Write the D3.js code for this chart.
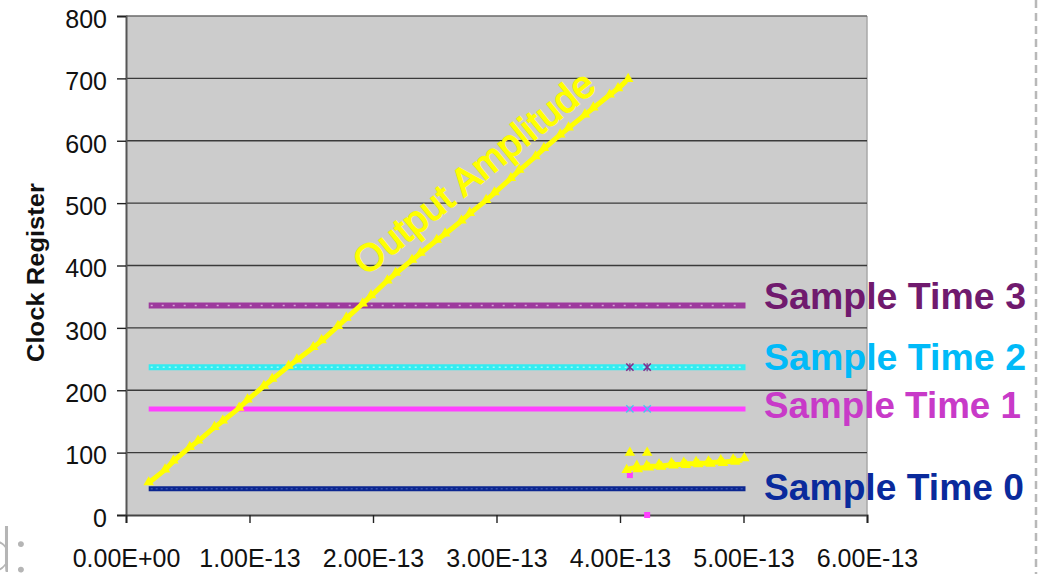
<!DOCTYPE html>
<html>
<head>
<meta charset="utf-8">
<script src="https://cdn.jsdelivr.net/npm/d3@7"></script>
<style>
  html, body { margin: 0; padding: 0; background: #ffffff; }
  svg { display: block; font-family: "Liberation Sans", Arial, Helvetica, sans-serif; }
</style>
</head>
<body>
<svg id="chart" width="1042" height="574"></svg>
<script>
// Times are given in units of 1e-13 s
const TIME_UNIT = 1e-13;

const xTickValues = [0, 1, 2, 3, 4, 5, 6];
const yTickValues = [0, 100, 200, 300, 400, 500, 600, 700, 800];

// Output amplitude: ramp phase
const rampTimes = [0.2, 0.3, 0.4, 0.5, 0.6, 0.7, 0.8, 0.9, 1.0, 1.1, 1.2, 1.3, 1.4, 1.5,
  1.6, 1.7, 1.8, 1.9, 2.0, 2.1, 2.2, 2.3, 2.4, 2.5, 2.6, 2.7, 2.8, 2.9, 3.0, 3.1, 3.2,
  3.3, 3.4, 3.5, 3.6, 3.7, 3.8, 3.9, 4.0, 4.05];
const rampValues = [54, 70, 89, 106, 121, 138, 153, 169, 187, 204, 220, 236, 251, 266,
  282, 300, 318, 336, 354, 373, 390, 406, 422, 438, 453, 469, 486, 502, 519, 537, 555,
  572, 590, 607, 623, 639, 655, 671, 686, 696];

// Output amplitude: settled phase
const tailTimes = [4.07, 4.12, 4.16, 4.2, 4.25, 4.3, 4.35, 4.4, 4.45, 4.5, 4.55, 4.6,
  4.65, 4.7, 4.75, 4.8, 4.85, 4.9, 4.95, 4.99];
const tailValues = [74, 76, 75, 76, 78, 78, 79, 80, 81, 81, 82, 82, 83, 83, 84, 85, 85,
  86, 87, 88];

// Sample-time registers: constant levels over the run
const sampleSpan = [0.2, 5.0];
const sampleNames = ["Sample Time 0", "Sample Time 1", "Sample Time 2", "Sample Time 3"];
const sampleLevels = [42, 170, 237, 336];

// Stray samples at the switching instants
const glitchTimes = [4.08, 4.22];
const glitchOutput = [100, 100];
const glitchTime1 = [64, 0];
const glitchTime2 = [170, 170];
const glitchTime3 = [237, 237];

const svg = d3.select("#chart");
const x = d3.scaleLinear().domain([0, 6 * TIME_UNIT]).range([126, 867]);
const y = d3.scaleLinear().domain([0, 800]).range([515, 16]);
const tx = t => x(t * TIME_UNIT);

// Plot background
svg.append("rect")
  .attr("x", x(0)).attr("y", y(800))
  .attr("width", x(6 * TIME_UNIT) - x(0)).attr("height", y(0) - y(800))
  .attr("fill", "#cccccc");
svg.append("line")
  .attr("x1", x(6 * TIME_UNIT)).attr("x2", x(6 * TIME_UNIT))
  .attr("y1", y(800)).attr("y2", y(0))
  .attr("stroke", "#a8a8a8").attr("stroke-width", 1.5);

// Horizontal gridlines
svg.append("g").selectAll("line")
  .data(yTickValues.filter(v => v > 0))
  .join("line")
  .attr("x1", x(0)).attr("x2", x(6 * TIME_UNIT))
  .attr("y1", d => y(d)).attr("y2", d => y(d))
  .attr("stroke", d => d === 800 ? "#6a6a6a" : "#3a3a3a")
  .attr("stroke-width", 1.4);

// Y axis
const yAxis = svg.append("g")
  .attr("transform", `translate(${x(0)},0)`)
  .call(d3.axisLeft(y).tickValues(yTickValues).tickSize(9).tickPadding(10));
yAxis.select(".domain").attr("stroke", "#555").attr("stroke-width", 2);
yAxis.selectAll(".tick line").attr("stroke", "#222").attr("stroke-width", 1.4);
yAxis.selectAll(".tick text")
  .attr("font-size", 25).attr("fill", "#111")
  .attr("font-family", "'Liberation Sans', Arial, sans-serif")
  .attr("dy", "0.45em");

// X axis
const fmtSci = v => {
  const s = v.toExponential(2).toUpperCase();
  return s.replace(/E([+-])(\d)$/, "E$10$2");
};
const xAxis = svg.append("g")
  .attr("transform", `translate(0,${y(0)})`)
  .call(d3.axisBottom(x).tickValues(xTickValues.map(t => t * TIME_UNIT))
    .tickSize(8).tickPadding(26).tickFormat(fmtSci));
xAxis.select(".domain").attr("stroke", "#444").attr("stroke-width", 2);
xAxis.selectAll(".tick line").attr("stroke", "#222").attr("stroke-width", 1.4);
xAxis.selectAll(".tick text")
  .attr("font-size", 25).attr("fill", "#111")
  .attr("font-family", "'Liberation Sans', Arial, sans-serif");

// Sample-time bands
const bandStyles = [
  { color: "#0b2690", width: 5, tex: "#3550b0", dash: "2,3" },
  { color: "#ff40ff", width: 5, tex: null, dash: null },
  { color: "#33ecf0", width: 6, tex: "#9ff8f8", dash: "2,4" },
  { color: "#9d3a9d", width: 6, tex: "#d6a8d6", dash: "2,9" }
];
const bands = svg.append("g");
sampleLevels.forEach((lvl, i) => {
  const st = bandStyles[i];
  bands.append("line")
    .attr("x1", tx(sampleSpan[0]) - 2).attr("x2", tx(sampleSpan[1]) + 2)
    .attr("y1", y(lvl)).attr("y2", y(lvl))
    .attr("stroke", st.color).attr("stroke-width", st.width);
  if (st.tex) {
    bands.append("line")
      .attr("x1", tx(sampleSpan[0])).attr("x2", tx(sampleSpan[1]))
      .attr("y1", y(lvl)).attr("y2", y(lvl))
      .attr("stroke", st.tex).attr("stroke-width", 1.5)
      .attr("stroke-dasharray", st.dash);
  }
});

// Stray samples
const xSym = d3.symbol().type(d3.symbolX).size(36);
const gl = svg.append("g");
glitchTimes.forEach((t, i) => {
  gl.append("path").attr("d", xSym())
    .attr("transform", `translate(${tx(t)},${y(glitchTime3[i])})`)
    .attr("fill", "none").attr("stroke", "#8a2a8a").attr("stroke-width", 1.6);
  gl.append("line")
    .attr("x1", tx(t)).attr("x2", tx(t))
    .attr("y1", y(glitchTime3[i]) - 4).attr("y2", y(glitchTime3[i]) + 4)
    .attr("stroke", "#8a2a8a").attr("stroke-width", 1.2);
  gl.append("path").attr("d", xSym())
    .attr("transform", `translate(${tx(t)},${y(glitchTime2[i])})`)
    .attr("fill", "none").attr("stroke", "#44c8ee").attr("stroke-width", 1.4);
  gl.append("rect")
    .attr("x", tx(t) - 3).attr("y", y(glitchTime1[i]) - 3)
    .attr("width", 6).attr("height", 6).attr("fill", "#ff40ff");
});

// Output amplitude
const line = d3.line().x(d => tx(d[0])).y(d => y(d[1]));
const tri = d3.symbol().type(d3.symbolTriangle).size(48);
const outSeg = [
  rampTimes.map((t, i) => [t, rampValues[i]]),
  tailTimes.map((t, i) => [t, tailValues[i]])
];
const out = svg.append("g");
outSeg.forEach(seg => {
  out.append("path").datum(seg).attr("d", line)
    .attr("fill", "none").attr("stroke", "#ffff00").attr("stroke-width", 5)
    .attr("stroke-linejoin", "round");
  out.selectAll(null).data(seg).join("path")
    .attr("d", tri())
    .attr("transform", (d, i) => `translate(${tx(d[0]) + (i % 2 ? 2 : -2)},${y(d[1]) + (i % 2 ? -2 : 1)})`)
    .attr("fill", "#ffff00");
});
out.selectAll(null).data(glitchTimes.map((t, i) => [t, glitchOutput[i]])).join("path")
  .attr("d", tri())
  .attr("transform", d => `translate(${tx(d[0])},${y(d[1])})`)
  .attr("fill", "#ffff00");

// Series annotations
svg.append("text")
  .attr("transform", "translate(473.5,172) rotate(-39)")
  .attr("text-anchor", "middle").attr("dy", "0.36em")
  .attr("font-size", 38).attr("fill", "#ffff00")
  .attr("stroke", "#ffff00").attr("stroke-width", 1.5)
  .attr("textLength", 298).attr("lengthAdjust", "spacing")
  .text("Output Amplitude");

const labelColors = ["#0a2a9c", "#c83ac8", "#00baf8", "#701a6e"];
const labelBaselines = [500, 418, 370, 309];
const labelLengths = [260, 257, 262, 262];
svg.append("g").selectAll("text")
  .data(sampleNames)
  .join("text")
  .attr("x", 764)
  .attr("y", (d, i) => labelBaselines[i])
  .attr("font-size", 36.5).attr("font-weight", "bold")
  .attr("fill", (d, i) => labelColors[i])
  .attr("textLength", (d, i) => labelLengths[i]).attr("lengthAdjust", "spacingAndGlyphs")
  .text(d => d);

// Axis title
svg.append("text")
  .attr("transform", "translate(44,272.5) rotate(-90)")
  .attr("text-anchor", "middle")
  .attr("font-size", 23).attr("font-weight", "bold").attr("fill", "#111")
  .attr("textLength", 179).attr("lengthAdjust", "spacingAndGlyphs")
  .text("Clock Register");

// Fragment of neighbouring slide text and the page divider
svg.append("text")
  .attr("x", -22).attr("y", 572)
  .attr("font-size", 64).attr("font-weight", 300)
  .attr("font-family", "Lato, 'Open Sans', sans-serif")
  .attr("fill", "#b5b5b5")
  .text("d:");
svg.append("line")
  .attr("x1", 1036).attr("x2", 1036).attr("y1", 0).attr("y2", 574)
  .attr("stroke", "#b8b8b8").attr("stroke-width", 2.5)
  .attr("stroke-dasharray", "8,5");
</script>
</body>
</html>
